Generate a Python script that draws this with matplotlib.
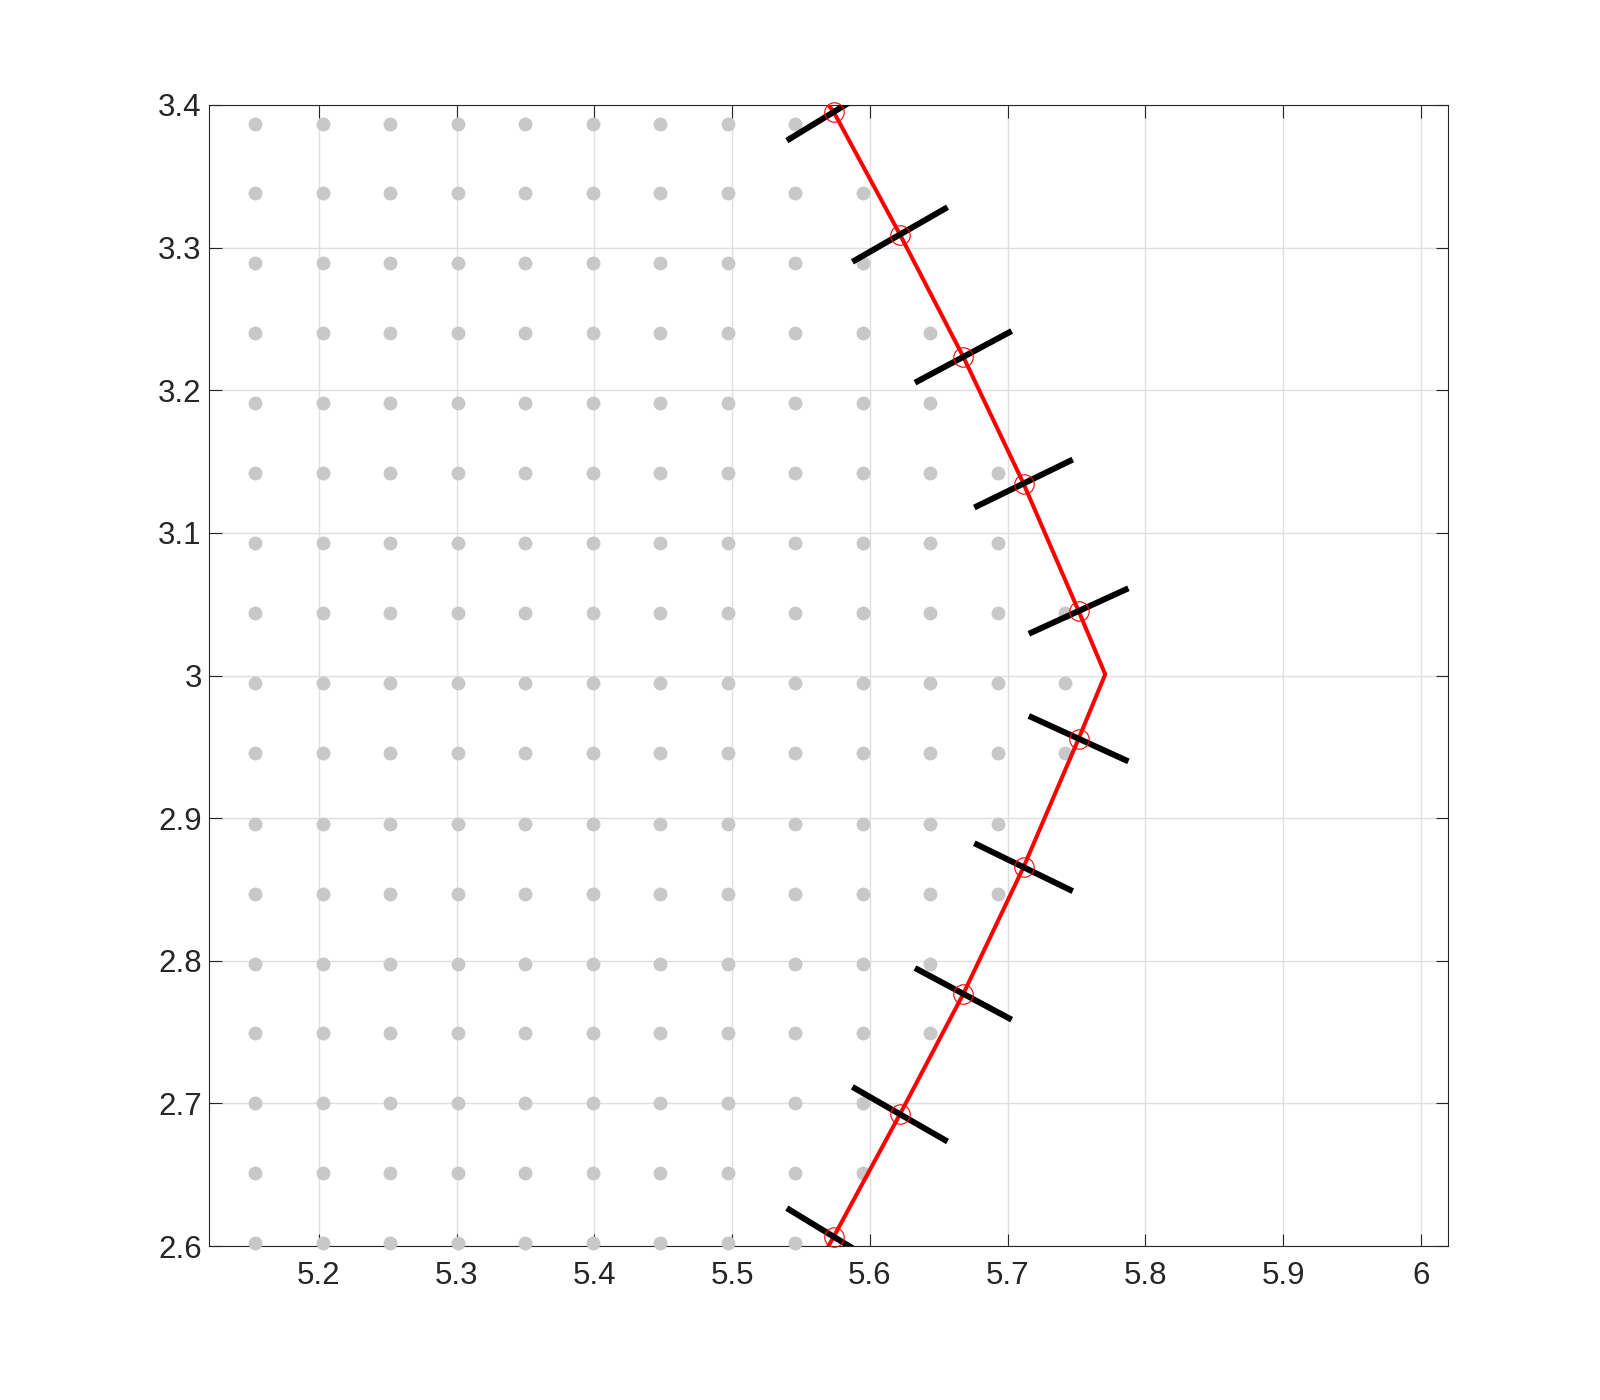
import matplotlib
matplotlib.use("Agg")
import matplotlib.pyplot as plt
import numpy as np

# grid of interior sample points (light grey dots)
grid_x = [5.154, 5.203, 5.252, 5.301, 5.350, 5.399, 5.448, 5.497, 5.546, 5.595, 5.644, 5.693, 5.742]
grid_y = [2.602, 2.651, 2.700, 2.749, 2.798, 2.847, 2.896, 2.946, 2.995,
          3.044, 3.093, 3.142, 3.191, 3.240, 3.289, 3.338, 3.387]
# how many columns are filled in each row (bottom -> top)
row_counts = [9, 10, 10, 11, 11, 12, 12, 13, 13, 13, 12, 12, 11, 11, 10, 10, 9]

# boundary polyline (red), top -> bottom
bnd_x = [5.570, 5.5738, 5.6219, 5.6679, 5.7116, 5.7516, 5.7709, 5.7516, 5.7116, 5.6679, 5.6219, 5.5738, 5.570]
bnd_y = [3.400, 3.3951, 3.3092, 3.2234, 3.1346, 3.0452, 3.0008, 2.9557, 2.8656, 2.7768, 2.6924, 2.6065, 2.600]

# boundary nodes (red circles) and their normal angles in degrees
node_x = [5.5738, 5.6219, 5.6679, 5.7116, 5.7516, 5.7516, 5.7116, 5.6679, 5.6219, 5.5738]
node_y = [3.3951, 3.3092, 3.2234, 3.1346, 3.0452, 2.9557, 2.8656, 2.7768, 2.6924, 2.6065]
normal_deg = [30.5, 29.0, 27.3, 25.2, 23.8, -23.8, -25.2, -27.3, -29.0, -30.5]
half_len = 0.0395

plt.rcParams['font.family'] = ['Liberation Sans', 'DejaVu Sans']
fig = plt.figure(figsize=(16, 14), dpi=100)
ax = fig.add_axes([0.1304, 0.11, 0.7748, 0.815])

# dots
dx, dy = [], []
for yv, n in zip(grid_y, row_counts):
    for xv in grid_x[:n]:
        dx.append(xv)
        dy.append(yv)
ax.plot(dx, dy, 'o', color='#c8c8c8', markersize=10, markeredgewidth=0,
        clip_on=False, zorder=3)

# red boundary
ax.plot(bnd_x, bnd_y, color='#ff0000', linewidth=2.9, zorder=4)

# black normals
for xv, yv, a in zip(node_x, node_y, normal_deg):
    c, s = np.cos(np.radians(a)), np.sin(np.radians(a))
    ax.plot([xv - half_len * c, xv + half_len * c], [yv - half_len * s, yv + half_len * s],
            color='black', linewidth=4.3, solid_capstyle='butt', zorder=5)

# red circles
ax.plot(node_x, node_y, 'o', markerfacecolor='none', markeredgecolor='#ff0000',
        markersize=14, markeredgewidth=0.8, clip_on=False, zorder=6)

ax.set_xlim(5.12, 6.02)
ax.set_ylim(2.6, 3.4)
ax.set_xticks([5.2, 5.3, 5.4, 5.5, 5.6, 5.7, 5.8, 5.9, 6.0])
ax.set_yticks([2.6, 2.7, 2.8, 2.9, 3.0, 3.1, 3.2, 3.3, 3.4])
ax.xaxis.set_major_formatter(plt.FormatStrFormatter('%g'))
ax.yaxis.set_major_formatter(plt.FormatStrFormatter('%g'))

ax.grid(True, color='#dfdfdf', linewidth=1.0)
ax.set_axisbelow(True)
ax.tick_params(direction='in', length=9, width=0.8, colors='#262626',
               labelsize=22.5, top=True, right=True)
ax.tick_params(axis='x', pad=11)
ax.tick_params(axis='y', pad=5)
for sp in ax.spines.values():
    sp.set_color('#262626')
    sp.set_linewidth(0.8)

fig.savefig('out.png', dpi=100)
